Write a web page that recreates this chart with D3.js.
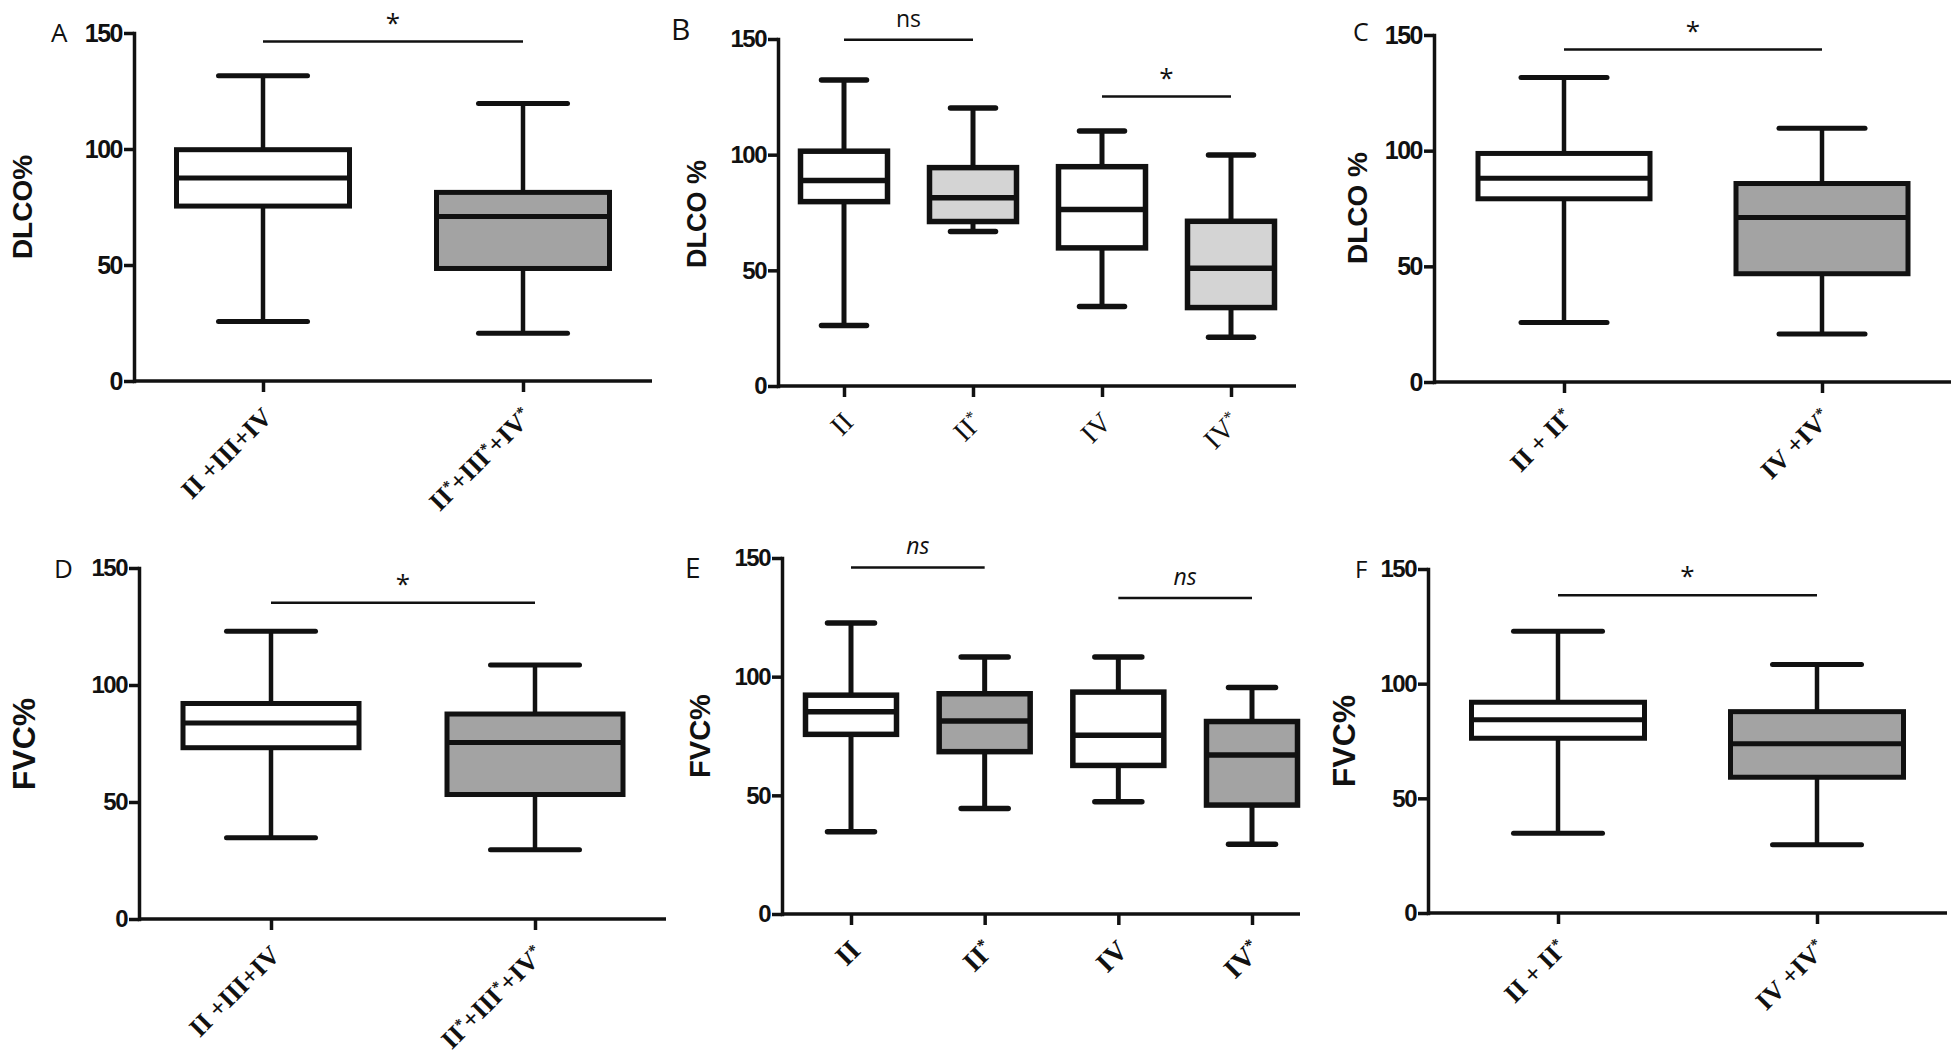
<!DOCTYPE html>
<html><head><meta charset="utf-8">
<script src="https://cdn.jsdelivr.net/npm/d3@7/dist/d3.min.js"></script>
<style>
body{margin:0;background:#fff}
svg{display:block}
</style>
</head><body>
<svg id="chart" width="1959" height="1062"></svg>
<script>
// ---------- DATA ----------
// box stats: [min, q1, median, q3, max]
const yTicks = [0, 50, 100, 150];

const catsA = ["II +III+IV", "II*+III*+IV*"];
const dlcoA = [[25.7, 75.4, 87.5, 99.7, 131.6], [20.6, 48.5, 70.9, 81.3, 119.6]];
const sigA = [{from: 0, to: 1, value: 146.3, label: "*"}];

const catsB = ["II", "II*", "IV", "IV*"];
const dlcoB = [[26.1, 79.7, 88.8, 101.5, 132.3], [66.8, 71.1, 81.4, 94.4, 120.2],
               [34.4, 59.7, 76.3, 94.8, 110.2], [21.1, 33.9, 50.9, 71.2, 99.9]];
const sigB = [{from: 0, to: 1, value: 149.7, label: "ns"}, {from: 2, to: 3, value: 125.1, label: "*"}];

const catsC = ["II + II*", "IV +IV*"];
const dlcoC = [[25.7, 79.2, 88.1, 98.8, 131.6], [20.7, 46.8, 71.1, 85.8, 109.7]];
const sigC = [{from: 0, to: 1, value: 143.7, label: "*"}];

const catsD = ["II +III+IV", "II*+III*+IV*"];
const fvcD = [[34.7, 73.2, 83.8, 92.1, 123.0], [29.6, 53.2, 75.4, 87.6, 108.6]];
const sigD = [{from: 0, to: 1, value: 135.2, label: "*"}];

const catsE = ["II", "II*", "IV", "IV*"];
const fvcE = [[34.7, 75.7, 85.2, 92.2, 122.6], [44.4, 68.4, 81.3, 92.8, 108.3],
              [47.3, 62.6, 75.3, 93.5, 108.3], [29.4, 45.9, 67.0, 81.1, 95.4]];
const sigE = [{from: 0, to: 1, value: 146.0, label: "ns"}, {from: 2, to: 3, value: 133.1, label: "ns"}];

const catsF = ["II + II*", "IV +IV*"];
const fvcF = [[34.8, 76.2, 84.3, 91.9, 122.9], [29.8, 59.2, 73.8, 87.8, 108.4]];
const sigF = [{from: 0, to: 1, value: 138.5, label: "*"}];

// ---------- LAYOUT / STYLE ----------
const WHITE = "#ffffff", DARK = "#a3a3a3", LIGHT = "#d4d4d4";
const LETTERFONT = "'Open Sans',sans-serif";
const panels = [
  {letter: "A", letterSize: 26, lx: 51, ly: 42,
   title: "DLCO%", tSize: 28, tx: 22, ty: 207,
   cats: catsA, stats: dlcoA, sig: sigA, fills: [WHITE, DARK],
   axisX: 134, xEnd: 652, y0: 381, y150: 33, c0: 263, c1: 523, boxW: 173, capW: 89,
   tickSize: 25, labSize: 26, labBold: true, sw: 5},
  {letter: "B", letterSize: 30, lx: 671, ly: 40,
   title: "DLCO %", tSize: 27, tx: 697, ty: 214,
   cats: catsB, stats: dlcoB, sig: sigB, fills: [WHITE, LIGHT, WHITE, LIGHT],
   axisX: 778, xEnd: 1296, y0: 386, y150: 39, c0: 844, c1: 1231, boxW: 87, capW: 45,
   tickSize: 24, labSize: 28, labBold: false, sw: 5.5},
  {letter: "C", letterSize: 25, lx: 1353, ly: 41,
   title: "DLCO %", tSize: 28, tx: 1357, ty: 208,
   cats: catsC, stats: dlcoC, sig: sigC, fills: [WHITE, DARK],
   axisX: 1434, xEnd: 1951, y0: 382, y150: 35, c0: 1564, c1: 1822, boxW: 172, capW: 86,
   tickSize: 25, labSize: 26, labBold: true, sw: 5},
  {letter: "D", letterSize: 26, lx: 54, ly: 578,
   title: "FVC%", tSize: 32, tx: 24, ty: 744,
   cats: catsD, stats: fvcD, sig: sigD, fills: [WHITE, DARK],
   axisX: 139, xEnd: 666, y0: 919, y150: 568, c0: 271, c1: 535, boxW: 176, capW: 89,
   tickSize: 24, labSize: 26, labBold: true, sw: 5},
  {letter: "E", letterSize: 28, lx: 685, ly: 578,
   title: "FVC%", tSize: 29, tx: 700, ty: 736, italicSig: true,
   cats: catsE, stats: fvcE, sig: sigE, fills: [WHITE, DARK, WHITE, DARK],
   axisX: 782, xEnd: 1300, y0: 914, y150: 558, c0: 851, c1: 1252, boxW: 91, capW: 47,
   tickSize: 24, labSize: 28, labBold: true, sw: 5.5},
  {letter: "F", letterSize: 24, lx: 1355, ly: 578,
   title: "FVC%", tSize: 32, tx: 1344, ty: 741,
   cats: catsF, stats: fvcF, sig: sigF, fills: [WHITE, DARK],
   axisX: 1428, xEnd: 1947, y0: 913, y150: 569, c0: 1558, c1: 1817, boxW: 173, capW: 89,
   tickSize: 24, labSize: 26, labBold: true, sw: 5}
];

const INK = "#111";
const svg = d3.select("#chart");

function richText(sel, str) {
  str.split(/(\*)/).filter(s => s.length).forEach(p => {
    if (p === "*") sel.append("tspan").attr("baseline-shift", "super").attr("font-size", "0.6em").text("*");
    else sel.append("tspan").text(p);
  });
}

function drawPanel(p) {
  const g = svg.append("g");
  const y = d3.scaleLinear().domain([0, 150]).range([p.y0, p.y150]);
  const x = d3.scalePoint().domain(p.cats).range([p.c0, p.c1]);

  // y axis
  const ya = g.append("g").attr("transform", `translate(${p.axisX},0)`)
    .call(d3.axisLeft(y).tickValues(yTicks).tickSize(10).tickSizeOuter(0).tickPadding(2));
  ya.select(".domain").attr("stroke", INK).attr("stroke-width", 3.5).attr("stroke-linecap", "square");
  ya.selectAll(".tick line").attr("stroke", INK).attr("stroke-width", 3.5);
  ya.selectAll(".tick text").attr("fill", INK)
    .style("font-family", "'Liberation Sans',Arial,sans-serif").style("font-weight", "bold")
    .style("font-size", p.tickSize + "px").style("letter-spacing", "-1.5px");

  // x axis
  const xa = g.append("g").attr("transform", `translate(0,${p.y0})`)
    .call(d3.axisBottom(x).tickSize(11).tickSizeOuter(0).tickFormat(""));
  xa.select(".domain").remove();
  xa.selectAll(".tick line").attr("stroke", INK).attr("stroke-width", 3.5);
  g.append("line").attr("x1", p.axisX).attr("x2", p.xEnd).attr("y1", p.y0).attr("y2", p.y0)
    .attr("stroke", INK).attr("stroke-width", 3.5);

  // x labels
  p.cats.forEach(c => {
    const t = g.append("text")
      .attr("transform", `translate(${x(c) + 4},${p.y0 + 31}) rotate(-45)`)
      .attr("text-anchor", "end").attr("dy", "0.35em")
      .style("font-family", "'Liberation Serif','Times New Roman',serif")
      .style("font-weight", p.labBold ? "bold" : "normal")
      .style("font-size", p.labSize + "px").attr("fill", INK);
    richText(t, c);
  });

  // boxes
  p.cats.forEach((c, i) => {
    const [mn, q1, md, q3, mx] = p.stats[i];
    const cx = x(c);
    const bg = g.append("g");
    bg.append("line").attr("x1", cx).attr("x2", cx).attr("y1", y(mx)).attr("y2", y(q3))
      .attr("stroke", INK).attr("stroke-width", p.sw - 0.5);
    bg.append("line").attr("x1", cx).attr("x2", cx).attr("y1", y(q1)).attr("y2", y(mn))
      .attr("stroke", INK).attr("stroke-width", p.sw - 0.5);
    [mn, mx].forEach(v => bg.append("line")
      .attr("x1", cx - p.capW / 2).attr("x2", cx + p.capW / 2).attr("y1", y(v)).attr("y2", y(v))
      .attr("stroke", INK).attr("stroke-width", p.sw).attr("stroke-linecap", "round"));
    bg.append("rect").attr("x", cx - p.boxW / 2).attr("width", p.boxW)
      .attr("y", y(q3)).attr("height", y(q1) - y(q3))
      .attr("fill", p.fills[i]).attr("stroke", INK).attr("stroke-width", p.sw);
    bg.append("line").attr("x1", cx - p.boxW / 2).attr("x2", cx + p.boxW / 2)
      .attr("y1", y(md)).attr("y2", y(md)).attr("stroke", INK).attr("stroke-width", p.sw);
  });

  // significance
  p.sig.forEach(s => {
    const x1 = x(p.cats[s.from]), x2 = x(p.cats[s.to]), yy = y(s.value);
    g.append("line").attr("x1", x1).attr("x2", x2).attr("y1", yy).attr("y2", yy)
      .attr("stroke", INK).attr("stroke-width", 2.5);
    const isStar = s.label === "*";
    g.append("text").attr("x", (x1 + x2) / 2).attr("y", yy - (isStar ? 10 : 13))
      .attr("text-anchor", "middle").attr("fill", INK)
      .style("font-family", "'Open Sans',sans-serif")
      .style("font-style", p.italicSig ? "italic" : "normal")
      .style("font-size", (isStar ? 26 : 23) + "px").text(s.label);
  });

  // panel letter
  g.append("text").attr("x", p.lx).attr("y", p.ly).attr("fill", INK)
    .style("font-family", LETTERFONT).style("font-size", p.letterSize + "px").text(p.letter);

  // y title
  g.append("text").attr("transform", `translate(${p.tx},${p.ty}) rotate(-90)`)
    .attr("text-anchor", "middle").attr("dominant-baseline", "central").attr("fill", INK)
    .style("font-family", "'Liberation Sans',Arial,sans-serif").style("font-weight", "bold")
    .style("font-size", p.tSize + "px").text(p.title);
}

panels.forEach(drawPanel);
</script>
</body></html>
